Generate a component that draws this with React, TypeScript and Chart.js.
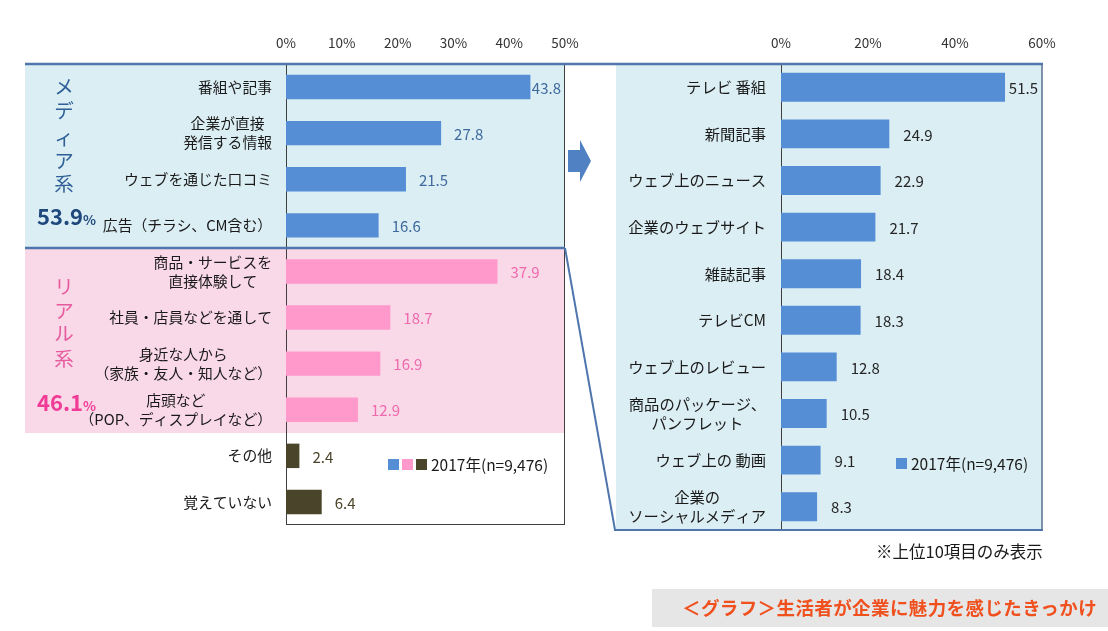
import React, { useEffect, useRef } from "react";
import { Chart, registerables } from "chart.js";
Chart.register(...registerables);

const FONT = '"Noto Sans CJK JP", "Noto Sans", sans-serif';

// ---- Data (left: all triggers) ----
const leftCategories = [
  "番組や記事",
  "企業が直接\n発信する情報",
  "ウェブを通じた口コミ",
  "広告（チラシ、CM含む）",
  "商品・サービスを\n直接体験して",
  "社員・店員などを通して",
  "身近な人から\n（家族・友人・知人など）",
  "店頭など\n（POP、ディスプレイなど）",
  "その他",
  "覚えていない",
];
const leftValues = [43.8, 27.8, 21.5, 16.6, 37.9, 18.7, 16.9, 12.9, 2.4, 6.4];
const leftGroups = ["media", "media", "media", "media", "real", "real", "real", "real", "other", "other"];
const leftTicks = [0, 10, 20, 30, 40, 50];

// ---- Data (right: media details, top 10) ----
const rightCategories = [
  "テレビ 番組",
  "新聞記事",
  "ウェブ上のニュース",
  "企業のウェブサイト",
  "雑誌記事",
  "テレビCM",
  "ウェブ上のレビュー",
  "商品のパッケージ、\nパンフレット",
  "ウェブ上の 動画",
  "企業の\nソーシャルメディア",
];
const rightValues = [51.5, 24.9, 22.9, 21.7, 18.4, 18.3, 12.8, 10.5, 9.1, 8.3];
const rightTicks = [0, 20, 40, 60];

const legendLabel = "2017年(n=9,476)";
const mediaShare = "53.9";
const realShare = "46.1";

// ---- Styles ----
const barColors: Record<string, string> = { media: "#558ED5", real: "#FF99CC", other: "#4A452A" };
const valueColors: Record<string, string> = { media: "#3F6A9E", real: "#F06AAE", other: "#4A452A" };
const BLUE_BG = "#DBEEF4";
const PINK_BG = "#F9D8E7";
const LINE_BLUE = "#4F75AD";

function catLabelPlugin(gap: number, lineH: number, size: number) {
  return {
    id: "catLabels",
    afterDraw(chart: any) {
      const ctx = chart.ctx;
      const y = chart.scales.y;
      const area = chart.chartArea;
      ctx.save();
      ctx.font = `${size}px ${FONT}`;
      ctx.fillStyle = "#1a1a1a";
      ctx.textAlign = "center";
      ctx.textBaseline = "middle";
      (chart.data.labels as string[]).forEach((lab, i) => {
        const lines = String(lab).split("\n");
        const w = Math.max(...lines.map((l) => ctx.measureText(l).width));
        const cx = area.left - gap - w / 2;
        const cy = y.getPixelForValue(i);
        lines.forEach((l, j) => {
          ctx.fillText(l, cx, cy + (j - (lines.length - 1) / 2) * lineH);
        });
      });
      ctx.restore();
    },
  };
}

function valueLabelPlugin(gap: number, colorFor: (i: number) => string) {
  return {
    id: "valueLabels",
    afterDatasetsDraw(chart: any) {
      const ctx = chart.ctx;
      const area = chart.chartArea;
      const meta = chart.getDatasetMeta(0);
      const data = chart.data.datasets[0].data as number[];
      ctx.save();
      ctx.font = `15px ${FONT}`;
      ctx.textAlign = "left";
      ctx.textBaseline = "middle";
      meta.data.forEach((bar: any, i: number) => {
        const txt = data[i].toFixed(1);
        const w = ctx.measureText(txt).width;
        let x = bar.x + gap;
        if (x + w > area.right - 4) x = area.right - w - 4;
        ctx.fillStyle = colorFor(i);
        ctx.fillText(txt, x, bar.y + 1);
      });
      ctx.restore();
    },
  };
}

function makeOptions(
  ticks: number[],
  axisWidth: number,
  padRight: number,
  padBottom: number
): any {
  return {
    indexAxis: "y",
    responsive: false,
    animation: false,
    events: [],
    layout: { padding: { left: 0, top: 0, right: padRight, bottom: padBottom } },
    plugins: { legend: { display: false }, tooltip: { enabled: false } },
    scales: {
      x: {
        position: "top",
        min: ticks[0],
        max: ticks[ticks.length - 1],
        afterBuildTicks: (s: any) => {
          s.ticks = ticks.map((v) => ({ value: v }));
        },
        ticks: {
          callback: (v: any) => v + "%",
          font: { family: FONT, size: 13.5 },
          color: "#333333",
          padding: 13,
          maxRotation: 0,
        },
        grid: { display: false, drawTicks: false },
        border: { display: false },
        afterFit: (s: any) => {
          s.height = 64;
        },
      },
      y: {
        ticks: { display: false },
        grid: { display: false, drawTicks: false },
        border: { display: false },
        afterFit: (s: any) => {
          s.width = axisWidth;
        },
      },
    },
  };
}

export default function App() {
  const leftRef = useRef<HTMLCanvasElement>(null);
  const rightRef = useRef<HTMLCanvasElement>(null);

  useEffect(() => {
    const left = new Chart(leftRef.current!, {
      type: "bar",
      data: {
        labels: leftCategories,
        datasets: [
          {
            label: legendLabel,
            data: leftValues,
            backgroundColor: leftGroups.map((g) => barColors[g]),
            categoryPercentage: 1,
            barPercentage: 0.53,
          },
        ],
      },
      options: makeOptions(leftTicks, 286, 1108 - 565, 631 - 525),
      plugins: [catLabelPlugin(14, 19, 14.8), valueLabelPlugin(13, (i) => valueColors[leftGroups[i]])],
    });
    const right = new Chart(rightRef.current!, {
      type: "bar",
      data: {
        labels: rightCategories,
        datasets: [
          {
            label: legendLabel,
            data: rightValues,
            backgroundColor: barColors.media,
            categoryPercentage: 1,
            barPercentage: 0.62,
          },
        ],
      },
      options: makeOptions(rightTicks, 781, 1108 - 1042, 631 - 530),
      plugins: [catLabelPlugin(15, 19, 15.3), valueLabelPlugin(14, () => "#262626")],
    });
    return () => {
      left.destroy();
      right.destroy();
    };
  }, []);

  const abs: React.CSSProperties = { position: "absolute" };
  const vchar = (ch: string, cx: number, cy: number, color: string, key: string) => (
    <div
      key={key}
      style={{
        ...abs,
        left: cx - 12,
        top: cy - 14,
        width: 24,
        height: 28,
        lineHeight: "28px",
        textAlign: "center",
        fontSize: 19.5,
        color,
      }}
    >
      {ch}
    </div>
  );

  const mediaChars = ["メ", "デ", "ィ", "ア", "系"];
  const mediaY = [86, 110, 137, 160, 183];
  const realChars = ["リ", "ア", "ル", "系"];
  const realY = [286, 310, 333, 358];

  return (
    <div
      style={{
        position: "absolute",
        left: 0,
        top: 0,
        width: 1108,
        height: 631,
        background: "#ffffff",
        overflow: "hidden",
        fontFamily: FONT,
      }}
    >
      <svg width={1108} height={631} style={{ ...abs, left: 0, top: 0 }}>
        <rect x={25} y={64} width={540} height={184} fill={BLUE_BG} />
        <rect x={25} y={248} width={540} height={185} fill={PINK_BG} />
        <rect x={616} y={64} width={426} height={466} fill={BLUE_BG} />
        <rect x={286.5} y={64.5} width={278} height={460} fill="none" stroke="#404040" strokeWidth={1} />
        <line x1={781.5} y1={64} x2={781.5} y2={530} stroke="#404040" strokeWidth={1} />
        <line x1={25} y1={64} x2={1043} y2={64} stroke={LINE_BLUE} strokeWidth={2.5} />
        <line x1={25} y1={248} x2={565} y2={248} stroke={LINE_BLUE} strokeWidth={2.5} />
        <line x1={565} y1={248} x2={615} y2={530} stroke={LINE_BLUE} strokeWidth={2} />
        <line x1={614} y1={530} x2={1043} y2={530} stroke={LINE_BLUE} strokeWidth={2} />
        <line x1={1042} y1={64} x2={1042} y2={530} stroke="#5A6F8F" strokeWidth={1.5} />
        <polygon
          points="568,150 580,150 580,140 591,161 580,182 580,172 568,172"
          fill="#4F81C3"
        />
        <rect x={652} y={589} width={456} height={38} fill="#E6E6E6" />
      </svg>
      <canvas ref={leftRef} width={1108} height={631} style={{ ...abs, left: 0, top: 0, width: 1108, height: 631 }} />
      <canvas ref={rightRef} width={1108} height={631} style={{ ...abs, left: 0, top: 0, width: 1108, height: 631 }} />

      {mediaChars.map((c, i) => vchar(c, 64, mediaY[i], "#2F5F97", "m" + i))}
      <div style={{ ...abs, left: 37, top: 199, fontWeight: "bold", color: "#1F497D", whiteSpace: "nowrap" }}>
        <span style={{ fontSize: 22 }}>{mediaShare}</span>
        <span style={{ fontSize: 13.5 }}>%</span>
      </div>
      {realChars.map((c, i) => vchar(c, 64, realY[i], "#E65A9E", "r" + i))}
      <div style={{ ...abs, left: 37, top: 385, fontWeight: "bold", color: "#F03C96", whiteSpace: "nowrap" }}>
        <span style={{ fontSize: 22 }}>{realShare}</span>
        <span style={{ fontSize: 13.5 }}>%</span>
      </div>

      {/* left legend */}
      <div style={{ ...abs, left: 388, top: 459, width: 11, height: 11, background: barColors.media }} />
      <div style={{ ...abs, left: 402, top: 459, width: 11, height: 11, background: barColors.real }} />
      <div style={{ ...abs, left: 416, top: 459, width: 11, height: 11, background: barColors.other }} />
      <div style={{ ...abs, left: 431, top: 454, fontSize: 15.5, lineHeight: "20px", color: "#1a1a1a", whiteSpace: "nowrap" }}>
        {legendLabel}
      </div>

      {/* right legend */}
      <div style={{ ...abs, left: 896, top: 458, width: 11, height: 11, background: barColors.media }} />
      <div style={{ ...abs, left: 911, top: 453, fontSize: 15.5, lineHeight: "20px", color: "#1a1a1a", whiteSpace: "nowrap" }}>
        {legendLabel}
      </div>

      <div style={{ ...abs, left: 876, top: 540, fontSize: 16.5, lineHeight: "22px", color: "#1a1a1a", whiteSpace: "nowrap" }}>
        ※上位10項目のみ表示
      </div>

      <div
        style={{
          ...abs,
          left: 682,
          top: 595,
          fontSize: 18.5,
          lineHeight: "24px",
          fontWeight: "bold",
          color: "#F0501E",
          letterSpacing: 0.4,
          whiteSpace: "nowrap",
        }}
      >
        ＜グラフ＞生活者が企業に魅力を感じたきっかけ
      </div>
    </div>
  );
}
